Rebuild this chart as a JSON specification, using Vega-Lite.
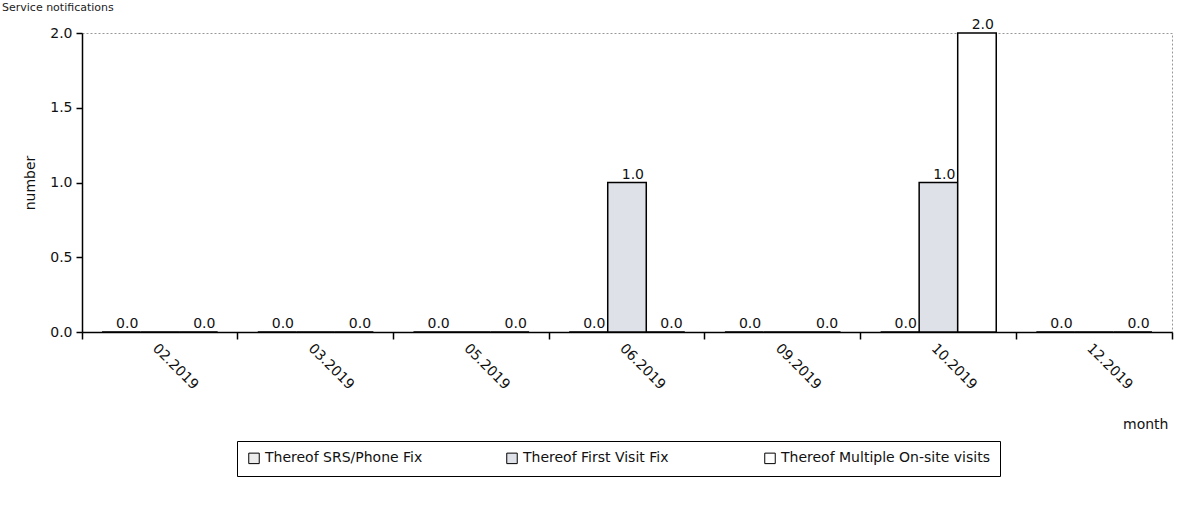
{
  "$schema": "https://vega.github.io/schema/vega-lite/v6.json",
  "width": 1090,
  "height": 299,
  "autosize": {"type": "none"},
  "padding": {"left": 82, "top": 33, "right": 20, "bottom": 174},
  "background": "white",
  "title": {"text": "Service notifications", "anchor": "start", "frame": "group", "dx": -80, "offset": 5, "fontSize": 11, "fontWeight": "normal", "font": "DejaVu Sans", "color": "#222"},
  "data": {"values": [
    {"month": "02.2019", "series": "Thereof SRS/Phone Fix", "value": 0},
    {"month": "02.2019", "series": "Thereof First Visit Fix", "value": 0},
    {"month": "02.2019", "series": "Thereof Multiple On-site visits", "value": 0},
    {"month": "03.2019", "series": "Thereof SRS/Phone Fix", "value": 0},
    {"month": "03.2019", "series": "Thereof First Visit Fix", "value": 0},
    {"month": "03.2019", "series": "Thereof Multiple On-site visits", "value": 0},
    {"month": "05.2019", "series": "Thereof SRS/Phone Fix", "value": 0},
    {"month": "05.2019", "series": "Thereof First Visit Fix", "value": 0},
    {"month": "05.2019", "series": "Thereof Multiple On-site visits", "value": 0},
    {"month": "06.2019", "series": "Thereof SRS/Phone Fix", "value": 0},
    {"month": "06.2019", "series": "Thereof First Visit Fix", "value": 1},
    {"month": "06.2019", "series": "Thereof Multiple On-site visits", "value": 0},
    {"month": "09.2019", "series": "Thereof SRS/Phone Fix", "value": 0},
    {"month": "09.2019", "series": "Thereof First Visit Fix", "value": 0},
    {"month": "09.2019", "series": "Thereof Multiple On-site visits", "value": 0},
    {"month": "10.2019", "series": "Thereof SRS/Phone Fix", "value": 0},
    {"month": "10.2019", "series": "Thereof First Visit Fix", "value": 1},
    {"month": "10.2019", "series": "Thereof Multiple On-site visits", "value": 2},
    {"month": "12.2019", "series": "Thereof SRS/Phone Fix", "value": 0},
    {"month": "12.2019", "series": "Thereof First Visit Fix", "value": 0},
    {"month": "12.2019", "series": "Thereof Multiple On-site visits", "value": 0}
  ]},
  "encoding": {
    "x": {
      "field": "month", "type": "ordinal", "sort": null,
      "scale": {"paddingInner": 0, "paddingOuter": 0},
      "axis": {
        "title": "month", "bandPosition": 1, "tickExtra": true, "labelOffset": 0,
        "labelAngle": 45, "labelAlign": "left", "labelBaseline": "top", "labelPadding": 2,
        "tickSize": 7, "domainColor": "black", "tickColor": "black", "domainWidth": 1.5, "tickWidth": 1.5,
        "labelFont": "DejaVu Sans", "labelFontSize": 14, "labelColor": "#111",
        "titleFont": "DejaVu Sans", "titleFontSize": 14, "titleFontWeight": "normal", "titleColor": "#111",
        "titleX": 1086, "titleY": 92, "titleAlign": "right", "titleBaseline": "middle", "titleAnchor": null
      }
    },
    "xOffset": {
      "field": "series", "type": "nominal",
      "sort": ["Thereof SRS/Phone Fix", "Thereof First Visit Fix", "Thereof Multiple On-site visits"],
      "scale": {"paddingInner": 0, "paddingOuter": 0.52}
    },
    "y": {
      "field": "value", "type": "quantitative",
      "scale": {"domain": [0, 2], "nice": false},
      "axis": {
        "title": "number", "values": [0, 0.5, 1, 1.5, 2], "format": ".1f", "grid": false,
        "tickSize": 6, "labelPadding": 4, "domainColor": "black", "tickColor": "black", "domainWidth": 1.5, "tickWidth": 1.5,
        "labelFont": "DejaVu Sans", "labelFontSize": 14, "labelColor": "#111",
        "titleFont": "DejaVu Sans", "titleFontSize": 14, "titleFontWeight": "normal", "titleColor": "#111", "titlePadding": 12
      }
    }
  },
  "layer": [
    {
      "mark": {"type": "bar", "stroke": "black", "strokeWidth": 1.5},
      "encoding": {
        "fill": {
          "field": "series", "type": "nominal",
          "sort": ["Thereof SRS/Phone Fix", "Thereof First Visit Fix", "Thereof Multiple On-site visits"],
          "scale": {"domain": ["Thereof SRS/Phone Fix", "Thereof First Visit Fix", "Thereof Multiple On-site visits"], "range": ["#ececec", "#dfe1e8", "#ffffff"]},
          "legend": {
            "orient": "none", "legendX": 155, "legendY": 408, "direction": "horizontal", "title": null,
            "strokeColor": "black", "padding": 10, "fillColor": "white",
            "symbolType": "square", "symbolSize": 110, "symbolStrokeColor": "black", "symbolStrokeWidth": 1, "symbolOpacity": 1,
            "labelFont": "DejaVu Sans", "labelFontSize": 14, "labelColor": "#111", "labelLimit": 400,
            "gridAlign": "all", "columnPadding": 30
          }
        }
      }
    },
    {
      "transform": [{"filter": "datum.series !== 'Thereof First Visit Fix' || datum.value > 0"}],
      "mark": {"type": "text", "align": "right", "baseline": "alphabetic", "dx": 17, "dy": -4, "font": "DejaVu Sans", "fontSize": 14, "color": "#111"},
      "encoding": {"text": {"field": "value", "type": "quantitative", "format": ".1f"}}
    }
  ],
  "config": {"view": {"stroke": "#999", "strokeDash": [2, 2], "strokeWidth": 1}}
}
